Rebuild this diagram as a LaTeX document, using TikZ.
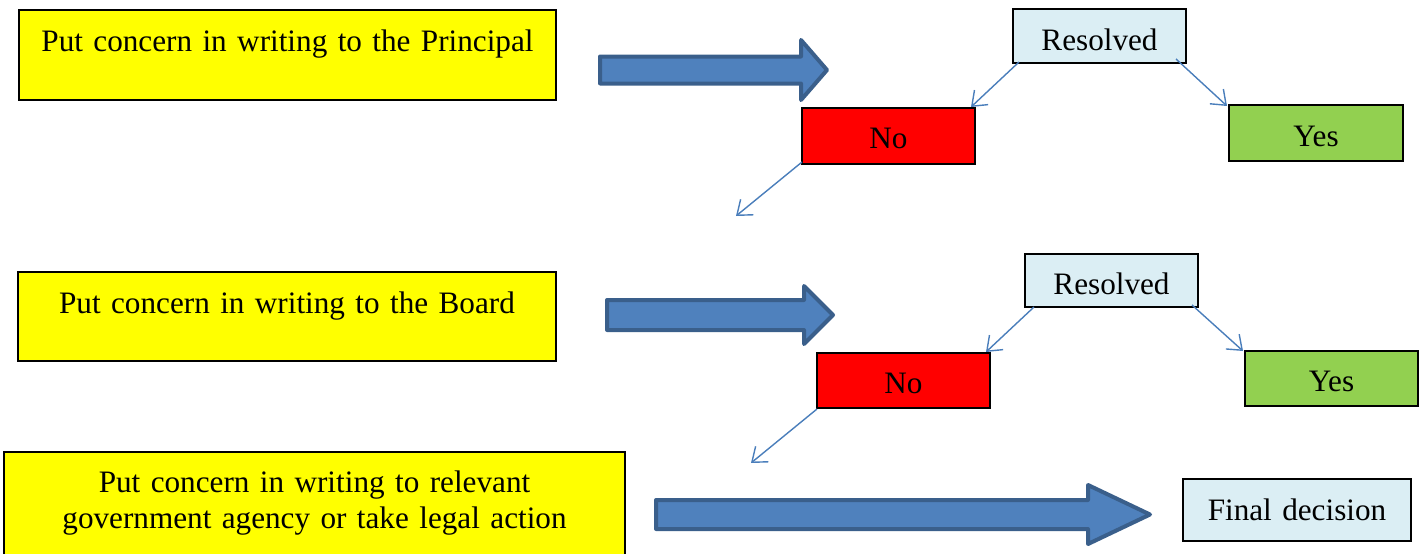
\documentclass[tikz,border=0pt]{standalone}
\usepackage{fontspec}
\setmainfont{Liberation Serif}
\usetikzlibrary{arrows.meta}
\definecolor{ppyellow}{HTML}{FFFF00}
\definecolor{ppred}{HTML}{FF0000}
\definecolor{ppgreen}{HTML}{92D050}
\definecolor{pplight}{HTML}{DBEEF4}
\definecolor{arrowfill}{HTML}{4F81BD}
\definecolor{arrowedge}{HTML}{3A5F8B}
\definecolor{connblue}{HTML}{4A7EBB}
\tikzset{
  box/.style={draw=black, line width=1.6pt, inner sep=0pt, outer sep=0pt, align=center, anchor=north west},
  sz/.style n args={3}{text width=#1pt, text height=#2pt, text depth=#3pt},
  blockarrow/.style={fill=arrowfill, draw=arrowedge, line width=4pt, line join=round},
  conn/.style={draw=connblue, line width=1.4pt, -{Straight Barb[length=13pt,width=20pt]}}
}
\begin{document}
\begin{tikzpicture}[x=1pt, y=-1pt, font=\fontsize{31.2}{36}\selectfont]
\clip (0,0) rectangle (1427,554);
% yellow steps
\node[box, fill=ppyellow, sz={537}{41}{49}] (p1) at (19,10) {Put concern in writing to the Principal};
\node[box, fill=ppyellow, sz={538}{41}{48}] (p2) at (18,272) {Put concern in writing to the Board};
\node[box, fill=ppyellow, sz={621}{40}{88}] (p3) at (4,452) {Put concern in writing to relevant\\government agency or take legal action};
% block arrows
\draw[blockarrow] (600,56.5) -- (801,56.5) -- (801,40) -- (827,70) -- (801,100) -- (801,83.5) -- (600,83.5) -- cycle;
\draw[blockarrow] (607,300) -- (804,300) -- (804,286) -- (833,315) -- (804,344) -- (804,330) -- (607,330) -- cycle;
\draw[blockarrow] (656,500) -- (1088,500) -- (1088,485) -- (1150,514.5) -- (1088,544) -- (1088,529) -- (656,529) -- cycle;
% first row
\node[box, fill=pplight, sz={173}{41}{13}] (R1) at (1013,9) {Resolved};
\node[box, fill=ppred, sz={173}{40}{16}] (N1) at (802,108) {No};
\node[box, fill=ppgreen, sz={174}{41}{15}] (Y1) at (1229,105) {Yes};
\coordinate (e1) at (736,216);
\draw[conn] ([xshift=6pt,yshift=1pt]R1.south west) -- ([xshift=-4pt,yshift=1pt]N1.north east);
\draw[conn] ([xshift=-10pt,yshift=4pt]R1.south east) -- ([xshift=-2pt,yshift=-1pt]Y1.north west);
\draw[conn] ([yshift=2pt]N1.south west) -- (e1);
% second row
\node[box, fill=pplight, sz={173}{40}{13}] (R2) at (1025,254) {Resolved};
\node[box, fill=ppred, sz={173}{40}{15}] (N2) at (817,353) {No};
\node[box, fill=ppgreen, sz={173}{40}{15}] (Y2) at (1245,351) {Yes};
\coordinate (e2) at (751,463);
\draw[conn] ([xshift=9pt]R2.south west) -- ([xshift=-4pt,yshift=1pt]N2.north east);
\draw[conn] ([xshift=-6pt,yshift=2pt]R2.south east) -- ([xshift=-2pt]Y2.north west);
\draw[conn] ([yshift=-1pt]N2.south west) -- (e2);
% final
\node[box, fill=pplight, sz={228}{41}{21}] (FD) at (1183,479) {Final decision};
\end{tikzpicture}
\end{document}
